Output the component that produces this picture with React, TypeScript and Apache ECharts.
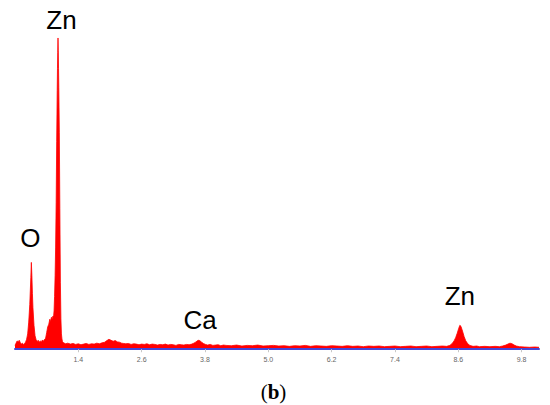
import React, { useEffect, useRef } from "react";
import * as echarts from "echarts";

// Energy (keV) and intensity (% of the Zn L peak scale)
const energies: number[] = [
  0.2, 0.22, 0.24, 0.26, 0.28, 0.3, 0.32, 0.34, 0.36, 0.38,
  0.4, 0.42, 0.44, 0.46, 0.48, 0.5, 0.51, 0.52, 0.53, 0.54, 0.56, 0.58, 0.6,
  0.62, 0.64, 0.66, 0.68, 0.7, 0.72, 0.74, 0.76, 0.78,
  0.8, 0.82, 0.84, 0.86, 0.87, 0.88, 0.89, 0.9, 0.91, 0.92, 0.93,
  0.94, 0.95, 0.96, 0.97, 0.98, 0.99, 1.0, 1.005, 1.01, 1.015, 1.02, 1.025, 1.03,
  1.04, 1.05, 1.06, 1.07, 1.08, 1.09, 1.1,
  1.12, 1.16, 1.2, 1.25, 1.3, 1.35, 1.4, 1.45, 1.5, 1.55, 1.6, 1.65, 1.7, 1.75,
  1.8, 1.85, 1.9, 1.94, 1.98, 2.02, 2.06, 2.1, 2.14, 2.18, 2.22, 2.26, 2.3,
  2.35, 2.4, 2.45, 2.5, 2.55, 2.6, 2.65, 2.7, 2.75, 2.8, 2.85, 2.9, 2.95, 3.0,
  3.05, 3.1, 3.15, 3.2, 3.25, 3.3, 3.35, 3.4, 3.45, 3.5, 3.55,
  3.59, 3.63, 3.67, 3.7, 3.73, 3.77, 3.81, 3.85, 3.9, 3.95, 4.0, 4.05, 4.1,
  4.15, 4.2, 4.3, 4.4, 4.5, 4.6, 4.7, 4.8, 4.9, 5.0, 5.1, 5.2, 5.3, 5.4, 5.5,
  5.6, 5.7, 5.8, 5.9, 6.0, 6.1, 6.2, 6.3, 6.4, 6.5, 6.6, 6.7, 6.8, 6.9, 7.0,
  7.1, 7.2, 7.3, 7.4, 7.5, 7.6, 7.7, 7.8, 7.9, 8.0, 8.1, 8.2, 8.3, 8.38,
  8.44, 8.48, 8.52, 8.55, 8.58, 8.61, 8.63, 8.65, 8.68, 8.71, 8.74, 8.78, 8.82,
  8.88, 8.95, 9.0, 9.1, 9.2, 9.3, 9.38, 9.44, 9.5, 9.54, 9.58, 9.62, 9.66, 9.7,
  9.76, 9.85, 9.95, 10.05, 10.13,
];

const intensities: number[] = [
  1.2, 1.9, 2.6, 2.3, 2.8, 2.1, 1.6, 1.9, 1.5, 1.8,
  2.2, 3.1, 4.8, 8.5, 14.0, 22.5, 27.2, 23.0, 17.5, 13.0, 7.5, 4.2, 3.0,
  2.4, 2.8, 2.2, 2.6, 2.3, 2.9, 2.5, 3.1, 3.4,
  5.2, 7.0, 7.8, 9.4, 8.6, 9.2, 10.0, 9.3, 9.8, 10.4, 10.0,
  12.0, 16.5, 23.0, 32.0, 46.0, 65.0, 81.0, 88.0, 93.0, 97.5, 93.5, 88.0, 82.0,
  68.0, 44.0, 21.0, 9.5, 4.8, 3.2, 2.4,
  2.0, 1.7, 1.9, 1.6, 1.8, 1.5, 1.7, 1.4, 1.6, 1.8, 1.5, 1.7, 1.6, 1.9,
  1.7, 2.0, 2.2, 2.7, 3.1, 2.8, 2.5, 2.7, 2.3, 2.2, 1.9, 1.8, 1.7,
  1.8, 1.5, 1.7, 1.6, 1.4, 1.6, 1.5, 1.7, 1.4, 1.6, 1.5, 1.3, 1.5, 1.4,
  1.6, 1.3, 1.5, 1.4, 1.2, 1.5, 1.4, 1.3, 1.5, 1.4, 1.6,
  1.9, 2.3, 2.8, 2.7, 2.3, 1.8, 1.5, 1.3, 1.5, 1.2, 1.3, 1.4, 1.1,
  1.3, 1.2, 1.1, 1.3, 1.0, 1.2, 1.1, 1.3, 1.0, 1.1, 1.2, 1.0, 1.1, 0.9, 1.1,
  1.0, 1.2, 0.9, 1.1, 1.0, 0.9, 1.1, 1.0, 0.9, 1.1, 0.9, 1.0, 0.8, 1.0, 0.9,
  1.0, 0.8, 0.9, 1.0, 0.8, 0.9, 1.0, 0.8, 0.9, 1.0, 0.8, 0.9, 1.0, 0.9,
  1.2, 1.7, 2.6, 3.6, 5.0, 6.6, 7.5, 7.2, 5.7, 4.0, 2.7, 1.7, 1.2,
  0.9, 1.0, 0.8, 0.9, 0.8, 0.9, 0.8, 1.0, 1.3, 1.6, 1.9, 1.7, 1.3, 1.0,
  0.8, 0.7, 0.6, 0.7, 0.6,
];

// Axis tick labels shown in the reference
const tickLabels: string[] = ["1.4", "2.6", "3.8", "5.0", "6.2", "7.4", "8.6", "9.8"];

// Element labels and the peak energies they annotate
const peakNames: string[] = ["O", "Zn", "Ca", "Zn"];
const peakEnergies: number[] = [0.51, 1.015, 3.67, 8.63];

const labelOffsets: number[][] = [
  [-1, -24],
  [3.5, -18],
  [2, -20],
  [0, -29],
];

export default function App() {
  const ref = useRef<HTMLDivElement>(null);

  useEffect(() => {
    if (!ref.current) return;
    const chart = echarts.init(ref.current, null, { renderer: "svg" });
    const data = energies.map((e, i) => [e, intensities[i]]);
    const markData = peakNames.map((name, i) => {
      const idx = energies.indexOf(peakEnergies[i]);
      return {
        name,
        coord: [peakEnergies[i], intensities[idx]],
        label: { offset: labelOffsets[i] },
      };
    });

    chart.setOption({
      animation: false,
      backgroundColor: "#ffffff",
      grid: { left: 15, right: 11, top: 30, bottom: 54.5 },
      xAxis: {
        type: "value",
        min: 0.2,
        max: 10.13,
        interval: 1.2,
        z: 5,
        splitLine: { show: false },
        axisLine: { show: true, lineStyle: { color: "#4646d6", width: 2 } },
        axisTick: { show: true, length: 3, lineStyle: { color: "#c8c8c8", width: 1 } },
        axisLabel: {
          fontSize: 7,
          color: "#666666",
          margin: 5,
          fontFamily: "'Liberation Sans', Arial, sans-serif",
          showMinLabel: false,
          showMaxLabel: false,
          formatter: (v: number) => {
            const s = (Math.round(v * 10) / 10).toFixed(1);
            return tickLabels.includes(s) ? s : "";
          },
        },
      },
      yAxis: { type: "value", min: -0.4, max: 100, show: false },
      series: [
        {
          type: "line",
          data,
          symbol: "none",
          lineStyle: { color: "#ff0000", width: 0.8 },
          areaStyle: { color: "#ff0000", opacity: 1 },
          markPoint: {
            silent: true,
            symbol: "circle",
            symbolSize: 0,
            itemStyle: { color: "transparent" },
            label: {
              show: true,
              position: "inside",
              formatter: "{b}",
              color: "#000000",
              fontSize: 26,
              fontFamily: "'Liberation Sans', Arial, sans-serif",
              verticalAlign: "middle",
              align: "center",
            },
            data: markData,
          },
        },
      ],
      graphic: [
        {
          type: "text",
          x: 273.5,
          y: 392,
          style: {
            text: "{n|(}{b|b}{n|)}",
            textAlign: "center",
            textVerticalAlign: "middle",
            rich: {
              n: { fontSize: 21, fontFamily: "'Liberation Serif', 'DejaVu Serif', serif", fill: "#000" },
              b: { fontSize: 21, fontWeight: "bold", fontFamily: "'Liberation Serif', 'DejaVu Serif', serif", fill: "#000" },
            },
          },
        },
      ],
    });
    return () => chart.dispose();
  }, []);

  return (
    <div
      ref={ref}
      style={{ position: "fixed", left: 0, top: 0, width: 550, height: 405, background: "#fff" }}
    />
  );
}
